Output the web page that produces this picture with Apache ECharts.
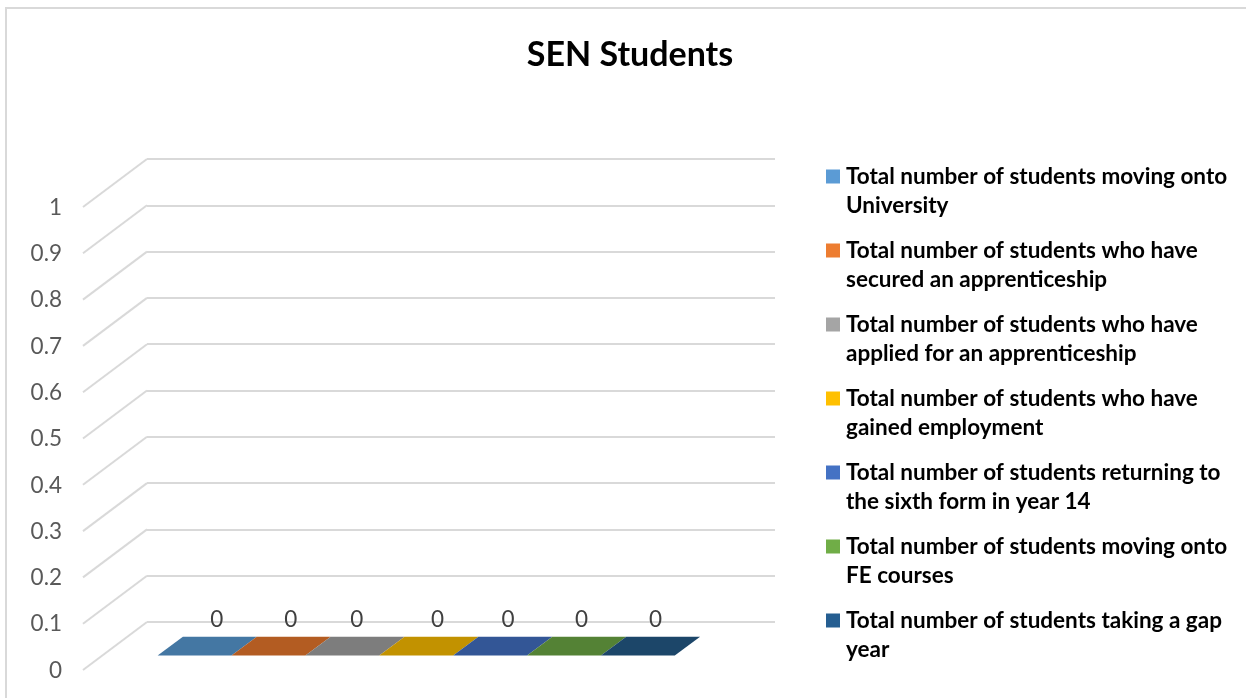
<!DOCTYPE html>
<html>
<head>
<meta charset="utf-8">
<title>SEN Students</title>
<script src="https://cdn.jsdelivr.net/npm/echarts@6/dist/echarts.min.js"></script>
<style>
html, body { margin: 0; padding: 0; background: #fff; }
#chart { width: 1246px; height: 698px; }
</style>
</head>
<body>
<div id="chart"></div>
<script>
var categories = [''];
var seriesNames = [
    'Total number of students moving onto University',
    'Total number of students who have secured an apprenticeship',
    'Total number of students who have applied for an apprenticeship',
    'Total number of students who have gained employment',
    'Total number of students returning to the sixth form in year 14',
    'Total number of students moving onto FE courses',
    'Total number of students taking a gap year'
];
var seriesValues = [0, 0, 0, 0, 0, 0, 0];
var yTicks = [0, 0.1, 0.2, 0.3, 0.4, 0.5, 0.6, 0.7, 0.8, 0.9, 1];
var legendColors = ['#5B9BD5', '#ED7D31', '#A5A5A5', '#FFC000', '#4472C4', '#70AD47', '#255E91'];
var topColors = ['#4477A3', '#B35C22', '#7D7D7D', '#C29200', '#335696', '#548235', '#1C4669'];

// the fake 3d: how far the side wall runs from the back wall to the front
var depthX = 64, depthY = 48;
var gapWidth = 1.5;
var barFront = 0.3, barBack = 0.695;
var fontName = 'Lato';
// the original's value labels are not evenly spaced
var labelNudge = [0.7, 0.8, -7, 0, -3.6, -3.8, -3.7];

function renderWallSide(params, api) {
    var p = api.coord([0, api.value(0)]);
    var x = params.coordSys.x;
    return {
        type: 'line',
        shape: { x1: x, y1: p[1], x2: x - depthX, y2: p[1] + depthY },
        style: { stroke: '#D9D9D9', lineWidth: 2 }
    };
}

function makeBarRender(index) {
    return function (params, api) {
        var c = api.coord([0, api.value(0)]);
        var band = api.size([1, 0])[0];
        var w = band / (seriesValues.length + gapWidth);
        var x0 = c[0] - band / 2 + w * (gapWidth / 2 + index);
        var baseY = c[1];
        var fx = depthX * barFront, fy = depthY * barFront;
        var bx = depthX * barBack, by = depthY * barBack;
        return {
            type: 'group',
            children: [{
                type: 'polygon',
                shape: { points: [
                    [x0 + fx, baseY - fy],
                    [x0 + fx + w, baseY - fy],
                    [x0 + bx + w, baseY - by],
                    [x0 + bx, baseY - by]
                ] },
                style: { fill: topColors[index] }
            }, {
                type: 'text',
                style: {
                    text: String(api.value(0)),
                    x: x0 + depthX * 0.635 + w / 2 + labelNudge[index],
                    y: baseY - by - 17,
                    align: 'center',
                    verticalAlign: 'middle',
                    fill: '#404040',
                    font: '22.5px ' + fontName
                }
            }]
        };
    };
}

var series = [{
    name: 'wall',
    type: 'custom',
    xAxisIndex: 0,
    yAxisIndex: 0,
    silent: true,
    data: yTicks,
    encode: { y: 0 },
    renderItem: renderWallSide
}];

seriesNames.forEach(function (name, i) {
    series.push({
        name: name,
        type: 'custom',
        xAxisIndex: 1,
        yAxisIndex: 1,
        silent: true,
        itemStyle: { color: legendColors[i] },
        data: [seriesValues[i]],
        encode: { y: 0 },
        renderItem: makeBarRender(i)
    });
});

var myChart = echarts.init(document.querySelector('#chart'));

var option = {
    animation: false,
    backgroundColor: '#fff',
    title: {
        text: 'SEN Students',
        left: 625,
        top: 33,
        textAlign: 'center',
        textStyle: { fontFamily: fontName, fontSize: 34, fontWeight: 'bold', color: '#000' }
    },
    graphic: [{
        type: 'rect',
        shape: { x: 6, y: 8, width: 1300, height: 800 },
        style: { fill: 'none', stroke: '#D9D9D9', lineWidth: 2 },
        silent: true
    }],
    legend: {
        data: seriesNames,
        orient: 'vertical',
        left: 821,
        top: 128,
        itemWidth: 14,
        itemHeight: 14,
        itemGap: -13,
        icon: 'rect',
        selectedMode: false,
        formatter: function (name) { return '\n' + name; },
        textStyle: {
            fontFamily: fontName,
            fontSize: 22.5,
            fontWeight: 'bold',
            color: '#000',
            lineHeight: 29,
            width: 392,
            overflow: 'break',
            padding: [0, 0, 0, 1]
        }
    },
    grid: [
        { left: 147, top: 159, width: 628, height: 463 },
        { left: 83, top: 207, width: 628, height: 463 }
    ],
    xAxis: [
        { type: 'category', gridIndex: 0, data: categories, axisLine: { show: false }, axisTick: { show: false }, axisLabel: { show: false } },
        { type: 'category', gridIndex: 1, data: categories, axisLine: { show: false }, axisTick: { show: false }, axisLabel: { show: false } }
    ],
    yAxis: [{
        type: 'value',
        gridIndex: 0,
        min: 0,
        max: 1,
        interval: 0.1,
        axisLine: { show: false },
        axisTick: { show: false },
        axisLabel: { show: false },
        splitLine: { lineStyle: { color: '#D9D9D9', width: 2 } }
    }, {
        type: 'value',
        gridIndex: 1,
        min: 0,
        max: 1,
        interval: 0.1,
        axisLine: { show: false },
        axisTick: { show: false },
        axisLabel: { margin: 21, color: '#595959', fontFamily: fontName, fontSize: 22.5, verticalAlign: 'top', padding: [-11, 0, 0, 0] },
        splitLine: { show: false }
    }],
    series: series
};
myChart.setOption(option);
</script>
</body>
</html>
